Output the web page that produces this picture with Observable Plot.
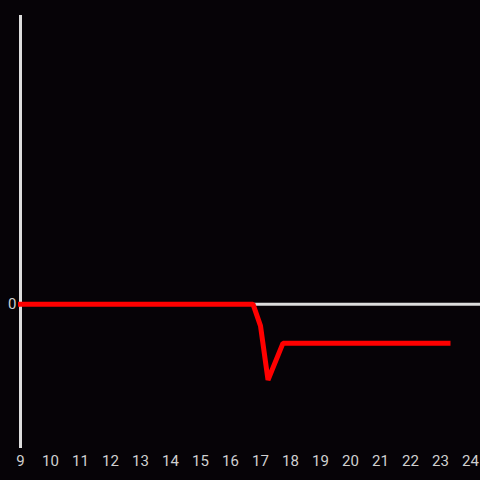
<!DOCTYPE html>
<html><head><meta charset="utf-8">
<script src="https://cdn.jsdelivr.net/npm/d3@7"></script>
<script src="https://cdn.jsdelivr.net/npm/@observablehq/plot@0.6"></script>
<style>
html,body{margin:0;padding:0;background:#060307;}
#chart svg text{font-size:15px !important;font-family:Roboto,'Liberation Sans',sans-serif !important;}
</style>
</head><body><div id="chart"></div>
<script>
const hours = [9, 16.75, 17, 17.25, 17.75, 23.25];
const values = [0, 0, -0.6, -2.1, -1.08, -1.08];
const xTicks = [9,10,11,12,13,14,15,16,17,18,19,20,21,22,23,24];
const yTicks = [0];
const data = hours.map((h, i) => ({h, v: values[i]}));
const chart = Plot.plot({
  width: 480, height: 480,
  marginTop: 15, marginBottom: 32, marginLeft: 20, marginRight: 0,
  style: {background: "#060307", color: "#d0d0d0", fontFamily: "Roboto, 'Liberation Sans', sans-serif", fontSize: "15px"},
  x: {domain: [9, 24.3333], label: null},
  y: {domain: [-4, 8], label: null},
  marks: [
    Plot.axisX({ticks: xTicks, tickSize: 0, tickPadding: 7, fontSize: 15, tickFormat: d => String(d), label: null}),
    Plot.axisY({ticks: yTicks, tickSize: 0, tickPadding: 4, fontSize: 15, label: null}),
    Plot.ruleX([9], {stroke: "#dddddd", strokeWidth: 3}),
    Plot.ruleY([0], {stroke: "#dddddd", strokeWidth: 3}),
    Plot.line(data, {x: "h", y: "v", stroke: "#ff0000", strokeWidth: 5, strokeLinecap: "square", strokeLinejoin: "miter"})
  ]
});
document.getElementById("chart").appendChild(chart);
</script></body></html>
